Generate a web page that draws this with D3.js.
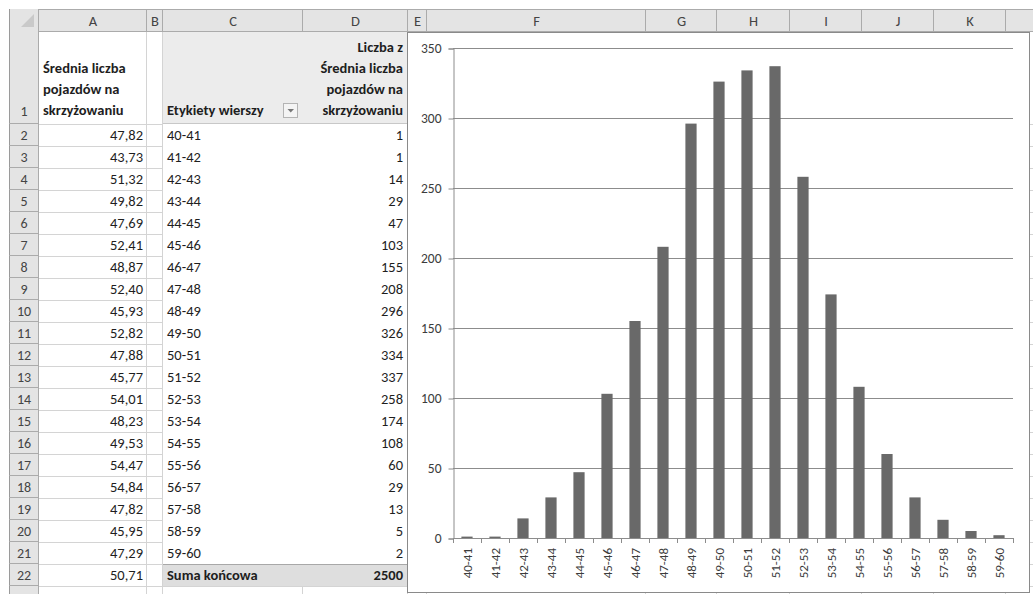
<!DOCTYPE html>
<html>
<head>
<meta charset="utf-8">
<script src="https://cdn.jsdelivr.net/npm/d3@7"></script>
<style>
  html, body { margin: 0; padding: 0; background: #fff; }
  svg { display: block; }
  text { font-family: Calibri, Carlito, Lato, "Open Sans", sans-serif; }
</style>
</head>
<body>
<svg id="sheet" width="1033" height="594"></svg>
<script>
// ---- data ----
const sampleMeans = ["47,82","43,73","51,32","49,82","47,69","52,41","48,87","52,40","45,93","52,82",
  "47,88","45,77","54,01","48,23","49,53","54,47","54,84","47,82","45,95","47,29","50,71"];
const binLabels = ["40-41","41-42","42-43","43-44","44-45","45-46","46-47","47-48","48-49","49-50",
  "50-51","51-52","52-53","53-54","54-55","55-56","56-57","57-58","58-59","59-60"];
const binCounts = [1,1,14,29,47,103,155,208,296,326,334,337,258,174,108,60,29,13,5,2];
const yTicks = [0,50,100,150,200,250,300,350];
const columnLetters = ["A","B","C","D","E","F","G","H","I","J","K",""];
const headerA = ["Średnia liczba","pojazdów na","skrzyżowaniu"];
const headerD = ["Liczba z","Średnia liczba","pojazdów na","skrzyżowaniu"];
const rowLabelHeader = "Etykiety wierszy";
const totalLabel = "Suma końcowa";

// ---- sheet geometry ----
const svg = d3.select("#sheet");
const colEdges = [9, 39, 147, 163, 303, 408, 427, 646, 717, 790, 862, 934, 1006, 1078];
const sheetTop = 9, headH = 23, row1H = 92, rowH = 22;
const rowTop = r => r === 1 ? sheetTop + headH : sheetTop + headH + row1H + (r - 2) * rowH;
const nRows = 23, nLabelledRows = 22;
const gridCol = "#d4d4d4", headFill = "#e4e4e4", headLine = "#ababab";
const textCol = "#1e1e1e";

// cell grid
const grid = svg.append("g");
for (let r = 1; r <= nRows; r++) {
  const yy = rowTop(r) + (r === 1 ? row1H : rowH);
  grid.append("line").attr("x1", colEdges[1]).attr("x2", 1033)
    .attr("y1", yy + 0.5).attr("y2", yy + 0.5).attr("stroke", gridCol);
}
colEdges.slice(2).forEach(xx => grid.append("line")
  .attr("x1", xx - 0.5).attr("x2", xx - 0.5).attr("y1", sheetTop + headH).attr("y2", 594)
  .attr("stroke", gridCol));

// pivot table body (white, no inner grid)
svg.append("rect").attr("x", colEdges[3]).attr("y", rowTop(2))
  .attr("width", colEdges[5] - colEdges[3] - 1).attr("height", rowH * 20)
  .attr("fill", "#fff");
// pivot header row and total row
svg.append("rect").attr("x", colEdges[3]).attr("y", rowTop(1))
  .attr("width", colEdges[5] - colEdges[3] - 1).attr("height", row1H)
  .attr("fill", "#ececec");
svg.append("rect").attr("x", colEdges[3]).attr("y", rowTop(22))
  .attr("width", colEdges[5] - colEdges[3] - 1).attr("height", rowH)
  .attr("fill", "#dedede");
svg.append("line").attr("x1", colEdges[3]).attr("x2", colEdges[5] - 1)
  .attr("y1", rowTop(22) + 0.5).attr("y2", rowTop(22) + 0.5).attr("stroke", "#a8a8a8");
svg.append("line").attr("x1", colEdges[3]).attr("x2", colEdges[5] - 1)
  .attr("y1", rowTop(2) - 0.5).attr("y2", rowTop(2) - 0.5).attr("stroke", "#c8c8c8");

// column header band
svg.append("rect").attr("x", sheetTop).attr("y", sheetTop).attr("width", 1033 - sheetTop).attr("height", headH)
  .attr("fill", headFill);
svg.append("line").attr("x1", sheetTop).attr("x2", 1033).attr("y1", sheetTop + 0.5).attr("y2", sheetTop + 0.5)
  .attr("stroke", headLine);
svg.append("line").attr("x1", sheetTop).attr("x2", 1033).attr("y1", sheetTop + headH - 0.5).attr("y2", sheetTop + headH - 0.5)
  .attr("stroke", headLine);
columnLetters.forEach((c, i) => {
  const x0 = colEdges[i + 1], x1 = colEdges[i + 2];
  svg.append("line").attr("x1", x1 - 0.5).attr("x2", x1 - 0.5).attr("y1", sheetTop).attr("y2", sheetTop + headH)
    .attr("stroke", headLine);
  if (c) svg.append("text").attr("x", (x0 + x1) / 2).attr("y", sheetTop + 16.5).attr("text-anchor", "middle")
    .attr("font-size", 14.5).attr("fill", "#444").text(c);
});

// row header band
svg.append("rect").attr("x", sheetTop).attr("y", sheetTop).attr("width", colEdges[1] - sheetTop).attr("height", 594 - sheetTop)
  .attr("fill", headFill);
svg.append("line").attr("x1", sheetTop + 0.5).attr("x2", sheetTop + 0.5).attr("y1", sheetTop).attr("y2", 594)
  .attr("stroke", "#9a9a9a");
svg.append("line").attr("x1", colEdges[1] - 0.5).attr("x2", colEdges[1] - 0.5).attr("y1", sheetTop).attr("y2", 594)
  .attr("stroke", headLine);
// select-all corner triangle
svg.append("path").attr("d", "M34,14 L34,27 L21,27 Z").attr("fill", "#c9c9c9");
for (let r = 1; r <= nRows; r++) {
  const y0 = rowTop(r), h = r === 1 ? row1H : rowH;
  svg.append("line").attr("x1", sheetTop).attr("x2", colEdges[1]).attr("y1", y0 + h - 0.5).attr("y2", y0 + h - 0.5)
    .attr("stroke", headLine);
  if (r <= nLabelledRows)
    svg.append("text").attr("x", (sheetTop + colEdges[1]) / 2).attr("y", y0 + h - (r === 1 ? 8 : 6))
      .attr("text-anchor", "middle").attr("font-size", 14).attr("fill", "#444").text(r);
}

// row 1 headers (bold, wrapped, bottom aligned)
const lh = 21;
const lastBase = rowTop(2) - 9;
headerA.forEach((t, i) => svg.append("text")
  .attr("x", colEdges[1] + 4).attr("y", lastBase - (headerA.length - 1 - i) * lh)
  .attr("font-size", 14.5).attr("font-weight", "bold").attr("fill", textCol).text(t));
headerD.forEach((t, i) => svg.append("text")
  .attr("x", colEdges[5] - 5).attr("y", lastBase - (headerD.length - 1 - i) * lh)
  .attr("text-anchor", "end")
  .attr("font-size", 14.5).attr("font-weight", "bold").attr("fill", textCol).text(t));
svg.append("text").attr("x", colEdges[3] + 4).attr("y", lastBase)
  .attr("font-size", 14.5).attr("font-weight", "bold").attr("fill", textCol).text(rowLabelHeader);
// filter dropdown button
svg.append("rect").attr("x", 283.5).attr("y", 103.5).attr("width", 14).attr("height", 14)
  .attr("fill", "#f4f4f4").attr("stroke", "#b4b4b4");
svg.append("path").attr("d", "M287.5,109 L294,109 L290.75,112.5 Z").attr("fill", "#777");

// column A values
sampleMeans.forEach((v, i) => svg.append("text")
  .attr("x", colEdges[2] - 4).attr("y", rowTop(i + 2) + 16).attr("text-anchor", "end")
  .attr("font-size", 14.5).attr("fill", textCol).text(v));
// pivot rows
binLabels.forEach((lab, i) => {
  svg.append("text").attr("x", colEdges[3] + 4).attr("y", rowTop(i + 2) + 16)
    .attr("font-size", 14.5).attr("fill", textCol).text(lab);
  svg.append("text").attr("x", colEdges[5] - 5).attr("y", rowTop(i + 2) + 16).attr("text-anchor", "end")
    .attr("font-size", 14.5).attr("fill", textCol).text(binCounts[i]);
});
svg.append("text").attr("x", colEdges[3] + 4).attr("y", rowTop(22) + 16)
  .attr("font-size", 14.5).attr("font-weight", "bold").attr("fill", textCol).text(totalLabel);
svg.append("text").attr("x", colEdges[5] - 5).attr("y", rowTop(22) + 16).attr("text-anchor", "end")
  .attr("font-size", 14.5).attr("font-weight", "bold").attr("fill", textCol).text(d3.sum(binCounts));

// ---- embedded column chart ----
const chart = svg.append("g");
chart.append("rect").attr("x", 407.5).attr("y", 32.5).attr("width", 622).attr("height", 560)
  .attr("fill", "#fff").attr("stroke", "#8a8a8a");

const plotL = 453, plotR = 1013, plotT = 48, plotB = 538;
const y = d3.scaleLinear().domain([0, 350]).range([plotB, plotT]);
const x = d3.scaleBand().domain(binLabels).range([plotL, plotR]).paddingInner(0.6).paddingOuter(0.3);
const edge = d3.scaleLinear().domain([0, binLabels.length]).range([plotL, plotR]);
const axisCol = "#8c8c8c", labelCol = "#3c3c3c";

// horizontal gridlines
chart.append("g").selectAll("line").data(yTicks.filter(d => d > 0)).join("line")
  .attr("x1", plotL).attr("x2", plotR)
  .attr("y1", d => Math.round(y(d)) + 0.5).attr("y2", d => Math.round(y(d)) + 0.5)
  .attr("stroke", axisCol);

// bars
chart.append("g").selectAll("rect").data(binCounts).join("rect")
  .attr("x", (d, i) => x(binLabels[i]))
  .attr("width", x.bandwidth())
  .attr("y", d => y(d))
  .attr("height", d => y(0) - y(d))
  .attr("fill", "#696969");

// value axis
const yAxis = chart.append("g").attr("transform", `translate(${plotL + 0.5},0.5)`)
  .call(d3.axisLeft(y).tickValues(yTicks).tickSize(5).tickPadding(7).tickFormat(d3.format("d")));
yAxis.select(".domain").attr("stroke", axisCol);
yAxis.selectAll(".tick line").attr("stroke", axisCol);
yAxis.selectAll(".tick text").attr("font-size", 13.5).attr("fill", labelCol)
  .style("font-family", "Calibri, Carlito, Lato, sans-serif");

// category axis: line, boundary ticks, rotated labels
chart.append("line").attr("x1", plotL).attr("x2", plotR + 0.5)
  .attr("y1", plotB + 0.5).attr("y2", plotB + 0.5).attr("stroke", axisCol);
chart.append("g").selectAll("line").data(d3.range(binLabels.length + 1)).join("line")
  .attr("x1", d => Math.round(edge(d)) + 0.5).attr("x2", d => Math.round(edge(d)) + 0.5)
  .attr("y1", plotB).attr("y2", plotB + 5).attr("stroke", axisCol);
chart.append("g").selectAll("text").data(binLabels).join("text")
  .attr("transform", d => `translate(${x(d) + x.bandwidth() / 2 + 4.5},${plotB + 10}) rotate(-90)`)
  .attr("text-anchor", "end")
  .attr("font-size", 13).attr("fill", labelCol).text(d => d);
</script>
</body>
</html>
